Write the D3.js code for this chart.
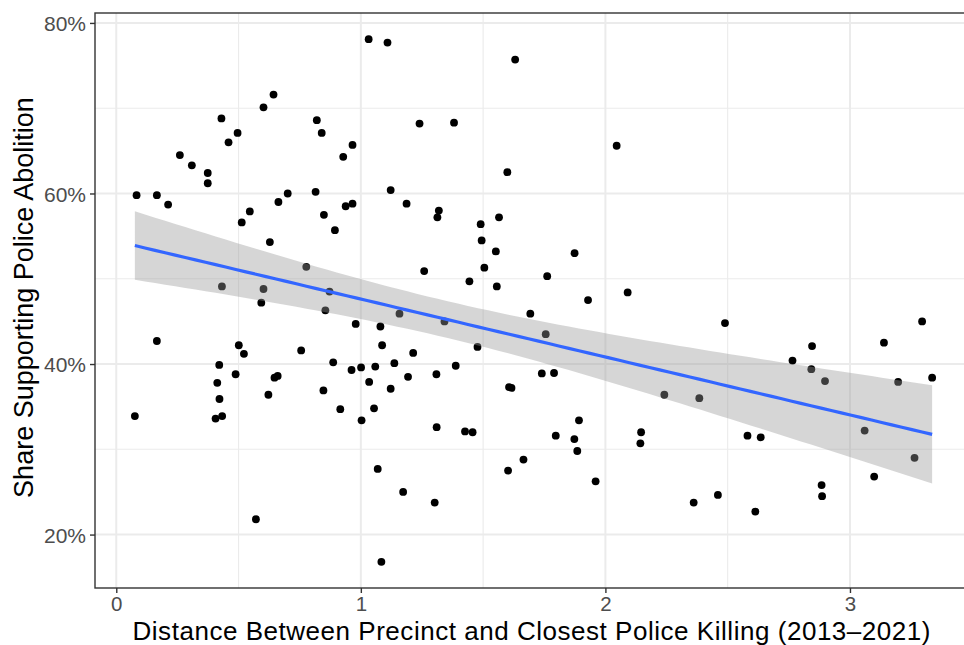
<!DOCTYPE html>
<html>
<head>
<meta charset="utf-8">
<script src="https://cdn.jsdelivr.net/npm/d3@7"></script>
<style>
  html, body { margin: 0; padding: 0; background: #fff; }
  svg { display: block; font-family: "Liberation Sans", Arial, Helvetica, sans-serif; }
</style>
</head>
<body>
<svg id="chart" width="964" height="645"></svg>
<script>
// ---- Data ----
const distance = [
  0.083, 0.166, 0.212, 0.260, 0.309, 0.374, 0.374, 0.430, 0.459, 0.496,
  0.602, 0.643, 0.546, 0.663, 0.701, 0.815, 0.820, 0.840, 0.849, 0.513,
  1.032, 1.109, 1.631, 1.240, 1.381, 2.046, 0.966, 0.928, 1.599, 1.122,
  1.187, 1.319, 1.313, 1.565, 0.938, 0.966, 0.166, 0.432, 0.602, 0.593,
  0.628, 0.777, 0.855, 0.872, 0.501, 0.522, 0.421, 0.488, 0.413, 0.422,
  0.756, 0.647, 0.660, 0.622, 0.847, 0.887, 0.894, 1.490, 1.494, 1.552,
  1.505, 1.444, 1.556, 1.259, 1.874, 1.762, 1.929, 2.091, 1.693, 1.756,
  0.979, 1.080, 1.158, 1.342, 1.087, 1.214, 1.477, 0.962, 1.001, 1.059,
  1.137, 1.309, 1.388, 1.193, 1.034, 1.122, 1.740, 1.790, 1.606, 1.616,
  0.916, 1.054, 2.489, 2.845, 2.765, 2.842, 2.898, 3.139, 3.295, 3.197,
  3.336, 2.241, 2.384, 0.076, 0.406, 0.433, 0.571, 1.003, 1.310, 1.426,
  1.457, 1.069, 1.173, 1.302, 1.084, 1.797, 1.873, 1.892, 1.885, 1.665,
  1.602, 1.960, 2.146, 2.143, 2.581, 2.635, 3.060, 3.264, 3.099, 2.884,
  2.886, 2.361, 2.460, 2.613
];
const sharePct = [
  59.8, 59.8, 58.7, 64.5, 63.3, 62.4, 61.2, 68.8, 66.0, 67.1,
  70.1, 71.6, 57.9, 59.0, 60.0, 60.2, 68.6, 67.1, 57.5, 56.6,
  78.1, 77.7, 75.7, 68.2, 68.3, 65.6, 65.7, 64.3, 62.5, 60.4,
  58.8, 58.0, 57.2, 57.2, 58.5, 58.8, 42.7, 49.1, 48.8, 47.2,
  54.3, 51.4, 46.3, 48.5, 42.2, 41.2, 39.9, 38.8, 37.8, 35.9,
  41.6, 38.4, 38.6, 36.4, 36.9, 40.2, 55.7, 56.4, 54.5, 53.2,
  51.3, 49.7, 49.1, 50.9, 53.0, 50.3, 47.5, 48.4, 45.9, 43.5,
  44.7, 44.4, 45.9, 45.0, 42.2, 41.3, 42.0, 39.3, 39.6, 39.7,
  40.1, 38.8, 39.8, 38.5, 37.9, 37.1, 38.9, 38.95, 37.3, 37.2,
  34.7, 34.8, 44.8, 42.1, 40.4, 39.4, 38.0, 42.5, 45.0, 37.9,
  38.4, 36.4, 36.0, 33.9, 33.6, 33.9, 21.8, 33.4, 32.6, 32.1,
  32.0, 27.7, 25.0, 23.75, 16.8, 31.6, 31.2, 33.4, 29.8, 28.8,
  27.5, 26.25, 32.0, 30.7, 31.6, 31.4, 32.2, 29.0, 26.8, 25.8,
  24.5, 23.75, 24.65, 22.7
];
const xTicks = [0, 1, 2, 3];
const xTickLabels = ["0", "1", "2", "3"];
const xMinor = [0.5, 1.5, 2.5];
const yTicks = [20, 40, 60, 80];
const yTickLabels = ["20%", "40%", "60%", "80%"];
const yMinor = [30, 50, 70];
const xTitle = "Distance Between Precinct and Closest Police Killing (2013\u20132021)";
const yTitle = "Share Supporting Police Abolition";

// ---- Layout ----
const svg = d3.select("#chart");
const panel = { left: 95, top: 13, right: 972, bottom: 588 };

const xExt = d3.extent(distance), yExt = d3.extent(sharePct);
const xPad = (xExt[1] - xExt[0]) * 0.05, yPad = (yExt[1] - yExt[0]) * 0.05;
const x = d3.scaleLinear().domain([xExt[0] - xPad, xExt[1] + xPad]).range([panel.left, panel.right]);
const y = d3.scaleLinear().domain([yExt[0] - yPad, yExt[1] + yPad]).range([panel.bottom, panel.top]);

// Panel background
svg.append("rect").attr("x", panel.left).attr("y", panel.top)
  .attr("width", panel.right - panel.left).attr("height", panel.bottom - panel.top)
  .attr("fill", "#fff");

// Gridlines
const grid = svg.append("g");
grid.selectAll(".xminor").data(xMinor).join("line")
  .attr("x1", d => x(d)).attr("x2", d => x(d)).attr("y1", panel.top).attr("y2", panel.bottom)
  .attr("stroke", "#EBEBEB").attr("stroke-width", 1.1);
grid.selectAll(".yminor").data(yMinor).join("line")
  .attr("y1", d => y(d)).attr("y2", d => y(d)).attr("x1", panel.left).attr("x2", panel.right)
  .attr("stroke", "#EBEBEB").attr("stroke-width", 1.1);
grid.selectAll(".xmajor").data(xTicks).join("line")
  .attr("x1", d => x(d)).attr("x2", d => x(d)).attr("y1", panel.top).attr("y2", panel.bottom)
  .attr("stroke", "#EBEBEB").attr("stroke-width", 2);
grid.selectAll(".ymajor").data(yTicks).join("line")
  .attr("y1", d => y(d)).attr("y2", d => y(d)).attr("x1", panel.left).attr("x2", panel.right)
  .attr("stroke", "#EBEBEB").attr("stroke-width", 2);

// Points
svg.append("g").selectAll("circle").data(distance.map((d, i) => [d, sharePct[i]])).join("circle")
  .attr("cx", d => x(d[0])).attr("cy", d => y(d[1])).attr("r", 3.9).attr("fill", "#000");

// Linear regression with 95% confidence band
const n = distance.length;
const mx = d3.mean(distance), my = d3.mean(sharePct);
let sxx = 0, sxy = 0;
for (let i = 0; i < n; i++) { sxx += (distance[i] - mx) ** 2; sxy += (distance[i] - mx) * (sharePct[i] - my); }
const slope = sxy / sxx, intercept = my - slope * mx;
let sse = 0;
for (let i = 0; i < n; i++) { sse += (sharePct[i] - intercept - slope * distance[i]) ** 2; }
const s = Math.sqrt(sse / (n - 2));
const tq = 1.979;
const fitX = d3.range(80).map(i => xExt[0] + (xExt[1] - xExt[0]) * i / 79);
const fit = fitX.map(xv => {
  const yh = intercept + slope * xv;
  const se = s * Math.sqrt(1 / n + (xv - mx) ** 2 / sxx);
  return { x: xv, y: yh, lo: yh - tq * se, hi: yh + tq * se };
});

svg.append("path").datum(fit)
  .attr("d", d3.area().x(d => x(d.x)).y0(d => y(d.lo)).y1(d => y(d.hi)))
  .attr("fill", "#999999").attr("fill-opacity", 0.4);
svg.append("path").datum(fit)
  .attr("d", d3.line().x(d => x(d.x)).y(d => y(d.y)))
  .attr("fill", "none").attr("stroke", "#3366FF").attr("stroke-width", 3.2);

// Panel border
svg.append("rect").attr("x", panel.left).attr("y", panel.top)
  .attr("width", panel.right - panel.left).attr("height", panel.bottom - panel.top)
  .attr("fill", "none").attr("stroke", "#333333").attr("stroke-width", 1.4);

// Axes
const xAxis = d3.axisBottom(x).tickValues(xTicks).tickFormat((d, i) => xTickLabels[i])
  .tickSizeInner(5).tickSizeOuter(0).tickPadding(4);
const yAxis = d3.axisLeft(y).tickValues(yTicks).tickFormat((d, i) => yTickLabels[i])
  .tickSizeInner(5).tickSizeOuter(0).tickPadding(4);

const gx = svg.append("g").attr("transform", `translate(0,${panel.bottom})`).call(xAxis);
const gy = svg.append("g").attr("transform", `translate(${panel.left},0)`).call(yAxis);
[gx, gy].forEach(g => {
  g.select(".domain").remove();
  g.selectAll(".tick line").attr("stroke", "#333333").attr("stroke-width", 1.4);
  g.selectAll(".tick text").attr("fill", "#4D4D4D").attr("font-size", 21)
    .attr("font-family", "Liberation Sans, Arial, sans-serif");
});
gx.selectAll(".tick text").attr("font-size", 20.5).attr("dy", null).attr("y", 23);
gy.selectAll(".tick text").attr("dy", "0.36em");

// Axis titles
svg.append("text").attr("x", (panel.left + panel.right) / 2 - 2).attr("y", 639.5)
  .attr("text-anchor", "middle").attr("font-size", 26)
  .attr("textLength", 798).attr("lengthAdjust", "spacing")
  .attr("fill", "#000").text(xTitle);
svg.append("text")
  .attr("transform", `translate(33,${(panel.top + panel.bottom) / 2 - 3}) rotate(-90)`)
  .attr("text-anchor", "middle").attr("font-size", 27).attr("fill", "#000").text(yTitle);
</script>
</body>
</html>
